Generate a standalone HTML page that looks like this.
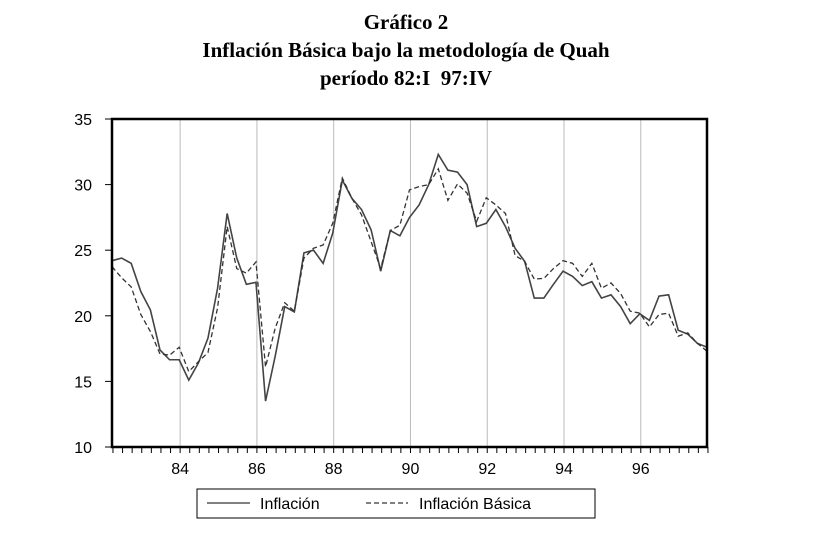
<!DOCTYPE html>
<html><head><meta charset="utf-8"><style>
body{margin:0;background:#fff;}
svg{display:block;}
</style></head><body>
<svg width="837" height="548" xmlns="http://www.w3.org/2000/svg">
<g font-family="Liberation Serif, serif" font-weight="bold" font-size="21" text-anchor="middle" fill="#000">
<text x="406" y="29">Gráfico 2</text>
<text x="406" y="57">Inflación Básica bajo la metodología de Quah</text>
<text x="406" y="85">período 82:I&#160;&#160;97:IV</text>
</g>
<g id="grid"></g>
<g id="ticks"></g>
<g id="series"></g>
<rect x="112" y="119" width="595" height="328" fill="none" stroke="#000" stroke-width="2.5"/>
<g>
<rect x="197" y="489" width="398" height="29" fill="none" stroke="#000" stroke-width="1"/>
<line x1="207" y1="503" x2="250" y2="503" stroke="#000" stroke-width="1"/>
<text x="260" y="509" font-family="Liberation Sans, sans-serif" font-size="16">Inflación</text>
<line x1="366" y1="503" x2="408" y2="503" stroke="#000" stroke-width="1" stroke-dasharray="5,3"/>
<text x="419" y="509" font-family="Liberation Sans, sans-serif" font-size="16">Inflación Básica</text>
</g>
</svg>
<script>
const yTicks=[10,15,20,25,30,35];
const xLabels=["84","86","88","90","92","94","96"];
const inflacion=[24.2,24.4,24.0,21.85,20.45,17.4,16.65,16.65,15.1,16.4,18.3,22.1,27.8,24.4,22.4,22.55,13.5,16.9,20.7,20.3,24.8,25.0,24.0,26.3,30.35,28.95,28.1,26.55,23.4,26.5,26.1,27.5,28.45,30.0,32.3,31.1,30.95,30.0,26.8,27.05,28.1,26.8,25.15,24.15,21.35,21.35,22.4,23.4,23.0,22.3,22.6,21.35,21.6,20.7,19.4,20.15,19.65,21.5,21.6,18.9,18.6,17.9,17.6];
const basica=[23.75,22.9,22.2,20.1,18.8,17.1,17.0,17.6,15.75,16.5,17.2,20.6,26.8,23.6,23.25,24.1,16.1,19.05,21.0,20.35,24.4,25.15,25.4,27.05,30.5,28.95,27.7,25.65,23.6,26.5,26.9,29.6,29.85,30.0,31.2,28.8,30.05,29.35,27.2,29.0,28.45,27.8,24.6,24.15,22.8,22.85,23.6,24.2,24.0,23.0,24.0,22.1,22.5,21.7,20.35,20.2,19.15,20.1,20.2,18.45,18.7,17.9,17.3];
const NS="http://www.w3.org/2000/svg";
const x0=112,x1=707,yTop=119,yBot=447;
const n=inflacion.length;
const xs=i=>x0+i*(x1-x0)/(n-1);
const ys=v=>yBot-(v-10)/(35-10)*(yBot-yTop);
function mk(tag,attrs,parent){const e=document.createElementNS(NS,tag);for(const k in attrs)e.setAttribute(k,attrs[k]);parent.appendChild(e);return e;}
const grid=document.getElementById('grid'),ticks=document.getElementById('ticks'),ser=document.getElementById('series');
xLabels.forEach((lab,k)=>{
  const gx=xs(7.1+8*k);
  const l=mk('line',{x1:gx,x2:gx,y1:yTop,y2:yBot,stroke:'#bbb','stroke-width':1},grid);
  
  
  const t=mk('text',{x:gx,y:474,'text-anchor':'middle','font-family':'Liberation Sans, sans-serif','font-size':16},ticks);
  t.textContent=lab;
  
  
});
for(let i=0;i<n;i++){
  const tx=xs(i+0.1);
  const l=mk('line',{x1:tx,x2:tx,y1:yBot,y2:yBot+6,stroke:'#000','stroke-width':1},ticks);
  
  
}
yTicks.forEach(v=>{
  const yy=ys(v);
  const l=mk('line',{x1:x0-7,x2:x0,y1:yy,y2:yy,stroke:'#000','stroke-width':1},ticks);
  
  
  const t=mk('text',{x:92,y:yy+6,'text-anchor':'end','font-family':'Liberation Sans, sans-serif','font-size':16},ticks);
  t.textContent=v;
  
  
});
const p1=mk('polyline',{points:inflacion.map((v,i)=>xs(i)+','+ys(v)).join(' '),fill:'none',stroke:'#444','stroke-width':1.6},ser);


const p2=mk('polyline',{points:basica.map((v,i)=>xs(i)+','+ys(v)).join(' '),fill:'none',stroke:'#333','stroke-width':1.3,'stroke-dasharray':'5,3'},ser);


</script>
</body></html>
